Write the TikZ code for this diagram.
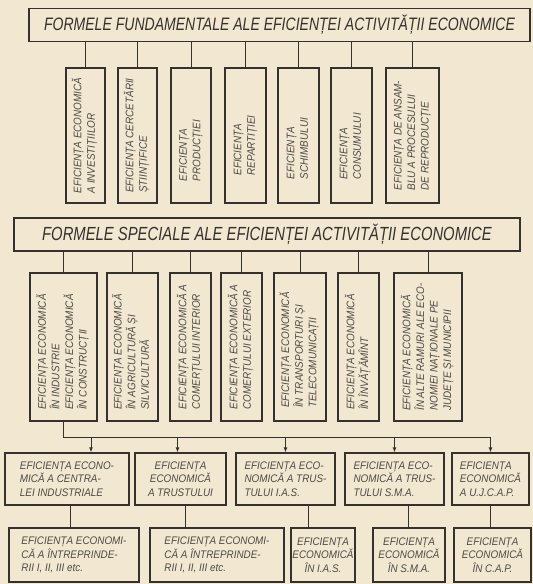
\documentclass[tikz,border=0pt]{standalone}
\usepackage{fontspec}
\setmainfont{Liberation Sans}[FakeStretch=0.9]
\newfontfamily\headfont{Liberation Sans}[FakeStretch=0.78]
\usetikzlibrary{arrows.meta}
\definecolor{paper}{HTML}{F2E8D1}
\definecolor{ink}{HTML}{35312D}
\definecolor{pencil}{HTML}{4E4944}
\newcommand{\vtext}[2][0pt]{\rotatebox{90}{\begin{tabular}{@{}l@{}}#2\end{tabular}\hspace{#1}}}

\begin{document}
\begin{tikzpicture}[x=1pt, y=-1pt, every node/.style={text=pencil},
  hdr/.style={draw=ink, line width=1.7pt, inner sep=0pt, text=ink, font=\headfont\itshape\fontsize{18}{20}\selectfont},
  vbox/.style={draw=ink, line width=1.2pt, inner sep=0pt, font=\itshape\fontsize{11}{13.5}\selectfont},
  hbox/.style={draw=ink, line width=1.2pt, inner sep=1pt, align=center, font=\itshape\fontsize{11}{13.5}\selectfont},
  conn/.style={draw=ink, line width=1pt},
  arr/.style={draw=ink, line width=1pt, -{Latex[length=5pt,width=4pt]}}]
  \fill[paper] (0,0) rectangle (533,584);
  \useasboundingbox (0,0) rectangle (533,584);

  % fundamental forms
  \node[hdr, minimum width=501pt, minimum height=33pt] (fund) at (279.5,25) {FORMELE FUNDAMENTALE ALE EFICIENȚEI ACTIVITĂȚII ECONOMICE};
  \node[vbox, minimum width=39pt, minimum height=135pt] (f1) at (85.5,135.5) {\vtext{EFICIENȚA ECONOMICĂ\\A INVESTIȚIILOR}};
  \node[vbox, minimum width=39pt, minimum height=135pt] (f2) at (137.5,135.5) {\vtext{EFICIENȚA CERCETĂRII\\ȘTIINȚIFICE}};
  \node[vbox, minimum width=40pt, minimum height=135pt] (f3) at (191,135.5) {\vtext[30pt]{EFICIENȚA\\PRODUCȚIEI}};
  \node[vbox, minimum width=41pt, minimum height=135pt] (f4) at (245.5,135.5) {\vtext[20pt]{EFICIENȚA\\REPARTIȚIEI}};
  \node[vbox, minimum width=41pt, minimum height=135pt] (f5) at (298.5,135.5) {\vtext[26pt]{EFICIENȚA\\SCHIMBULUI}};
  \node[vbox, minimum width=41pt, minimum height=135pt] (f6) at (351.5,135.5) {\vtext[22pt]{EFICIENȚA\\CONSUMULUI}};
  \node[vbox, minimum width=53pt, minimum height=135pt] (f7) at (412.5,135.5) {\vtext{EFICIENȚA DE ANSAM-\\BLU A PROCESULUI\\DE REPRODUCȚIE}};
  \draw[conn] (f1.north |- fund.south) -- (f1.north) (f2.north |- fund.south) -- (f2.north)
    (f3.north |- fund.south) -- (f3.north) (f4.north |- fund.south) -- (f4.north)
    (f5.north |- fund.south) -- (f5.north) (f6.north |- fund.south) -- (f6.north)
    (f7.north |- fund.south) -- (f7.north);

  % special forms
  \node[hdr, line width=2pt, minimum width=506pt, minimum height=33pt, font=\headfont\itshape\fontsize{19}{21}\selectfont] (spec) at (267,234.5) {FORMELE SPECIALE ALE EFICIENȚEI ACTIVITĂȚII ECONOMICE};
  \node[vbox, minimum width=67pt, minimum height=148pt] (s1) at (63.5,347) {\vtext[10pt]{EFICIENȚA ECONOMICĂ\\ÎN INDUSTRIE\\EFICIENȚA ECONOMICĂ\\ÎN CONSTRUCȚII}};
  \node[vbox, minimum width=51pt, minimum height=148pt] (s2) at (132.5,347) {\vtext[10pt]{EFICIENȚA ECONOMICĂ\\ÎN AGRICULTURĂ ȘI\\SILVICULTURĂ}};
  \node[vbox, minimum width=41pt, minimum height=148pt] (s3) at (190.5,347) {\vtext{EFICIENȚA ECONOMICĂ A\\COMERȚULUI INTERIOR}};
  \node[vbox, minimum width=41pt, minimum height=148pt] (s4) at (241.5,347) {\vtext{EFICIENȚA ECONOMICĂ A\\COMERȚULUI EXTERIOR}};
  \node[vbox, minimum width=52pt, minimum height=148pt] (s5) at (300,347) {\vtext[6pt]{EFICIENȚA ECONOMICĂ\\ÎN TRANSPORTURI ȘI\\TELECOMUNICAȚII}};
  \node[vbox, minimum width=41pt, minimum height=148pt] (s6) at (358.5,347) {\vtext[10pt]{EFICIENȚA ECONOMICĂ\\ÎN ÎNVĂȚĂMÎNT}};
  \node[vbox, minimum width=68pt, minimum height=148pt] (s7) at (428,347) {\vtext{EFICIENȚA ECONOMICĂ\\ÎN ALTE RAMURI ALE ECO-\\NOMIEI NAȚIONALE PE\\JUDEȚE ȘI MUNICIPII}};
  \draw[conn] (s1.north |- spec.south) -- (s1.north) (s2.north |- spec.south) -- (s2.north)
    (s3.north |- spec.south) -- (s3.north) (s4.north |- spec.south) -- (s4.north)
    (s5.north |- spec.south) -- (s5.north) (s6.north |- spec.south) -- (s6.north)
    (s7.north |- spec.south) -- (s7.north);

  % industry levels
  \node[hbox, align=left, minimum width=124pt, minimum height=52pt] (r1) at (67,479) {EFICIENȚA ECONO-\\MICĂ A CENTRA-\\LEI INDUSTRIALE};
  \node[hbox, minimum width=91pt, minimum height=52pt] (r2) at (180.5,479) {EFICIENȚA\\ECONOMICĂ\\A TRUSTULUI};
  \node[hbox, align=left, minimum width=99pt, minimum height=52pt] (r3) at (285.5,479) {EFICIENȚA ECO-\\NOMICĂ A TRUS-\\TULUI I.A.S.};
  \node[hbox, align=left, minimum width=99pt, minimum height=52pt] (r4) at (394.5,479) {EFICIENȚA ECO-\\NOMICĂ A TRUS-\\TULUI S.M.A.};
  \node[hbox, align=left, minimum width=77pt, minimum height=52pt] (r5) at (490.5,479) {EFICIENȚA\\ECONOMICĂ\\A U.J.C.A.P.};
  \node[hbox, align=left, minimum width=130pt, minimum height=54pt] (b1) at (74,555) {EFICIENȚA ECONOMI-\\CĂ A ÎNTREPRINDE-\\RII I, II, III etc.};
  \node[hbox, align=left, minimum width=134pt, minimum height=54pt] (b2) at (217,555) {EFICIENȚA ECONOMI-\\CĂ A ÎNTREPRINDE-\\RII I, II, III etc.};
  \node[hbox, minimum width=64pt, minimum height=54pt] (b3) at (323,555) {EFICIENȚA\\ECONOMICĂ\\ÎN I.A.S.};
  \node[hbox, minimum width=72pt, minimum height=54pt] (b4) at (409,555) {EFICIENȚA\\ECONOMICĂ\\ÎN S.M.A.};
  \node[hbox, minimum width=77pt, minimum height=54pt] (b5) at (492.5,555) {EFICIENȚA\\ECONOMICĂ\\ÎN C.A.P.};

  \coordinate (bus) at (0,437);
  \coordinate (a1) at ([xshift=24pt]r1.north);
  \coordinate (a2) at ([xshift=-3pt]r2.north);
  \draw[conn] (s1.south) -- (s1.south |- bus) -- (r5.north |- bus);
  \draw[arr] (a1 |- bus) -- (a1);
  \draw[arr] (a2 |- bus) -- (a2);
  \draw[arr] (r3.north |- bus) -- (r3.north);
  \draw[arr] (r4.north |- bus) -- (r4.north);
  \draw[arr] (r5.north |- bus) -- (r5.north);

  \coordinate (c1) at ([xshift=3pt]r1.south);
  \coordinate (c2) at ([xshift=4.5pt]r2.south);
  \coordinate (c3) at ([xshift=22.5pt]r3.south);
  \coordinate (c4) at ([xshift=13.5pt]r4.south);
  \draw[conn] (c1) -- (c1 |- b1.north) (c2) -- (c2 |- b2.north) (c3) -- (c3 |- b3.north)
    (c4) -- (c4 |- b4.north) (r5.south) -- (r5.south |- b5.north);
\end{tikzpicture}
\end{document}
